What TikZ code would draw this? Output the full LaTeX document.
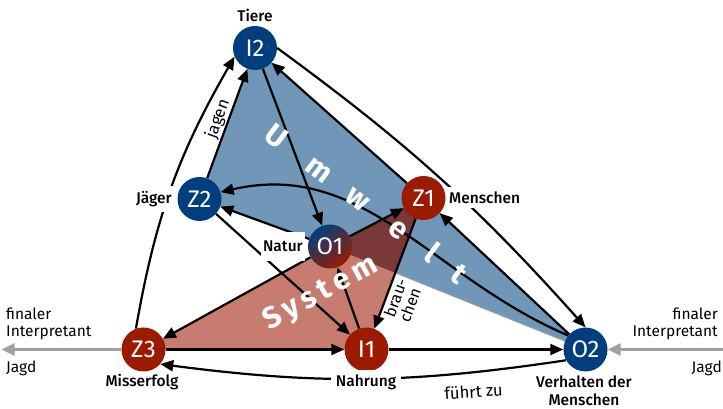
\documentclass[tikz,border=0pt]{standalone}
\usepackage{fontspec}
\setmainfont{Fira Sans}
\newfontfamily\medfont{Fira Sans Medium}
\usetikzlibrary{arrows.meta}
\definecolor{nblue}{HTML}{003E7E}
\definecolor{nred}{HTML}{9A1B00}
\definecolor{bfill}{HTML}{7096B8}
\definecolor{rfill}{HTML}{C87B6F}
\definecolor{ofill}{HTML}{7A3838}
\definecolor{garrow}{HTML}{A0A0A0}
\pgfdeclarelayer{back}
\pgfdeclarelayer{mid}
\pgfsetlayers{back,mid,main}
\begin{document}
\begin{tikzpicture}[x=1pt,y=1pt,
  circ/.style={circle,minimum size=44pt,inner sep=0pt,text=white,font=\fontsize{24}{24}\selectfont},
  bnode/.style={circ,fill=nblue},
  rnode/.style={circ,fill=nred},
  lab/.style={font=\medfont\fontsize{15.5}{18}\selectfont,inner xsep=2pt,inner ysep=5pt},
  wlab/.style={lab,fill=white},
  small/.style={font=\fontsize{16.5}{16.5}\selectfont,inner sep=1pt},
  side/.style={font=\fontsize{15.5}{17}\selectfont,inner sep=0pt},
  arr/.style={-{Triangle[length=13pt,width=11pt]},line width=2.2pt},
  garr/.style={-{Triangle[length=13pt,width=12pt]},line width=3pt,draw=garrow},
  big/.style={text=white,font=\bfseries\fontsize{30}{30}\selectfont,inner sep=0pt}
]
\useasboundingbox (0,0) rectangle (723,409);
% centres
\coordinate (cI2) at (255,361);
\coordinate (cZ2) at (199.5,210);
\coordinate (cO1) at (330,162.5);
\coordinate (cZ1) at (423.5,211);
\coordinate (cZ3) at (143.5,59.5);
\coordinate (cI1) at (366.5,59.5);
\coordinate (cO2) at (585.5,59.5);
\coordinate (lend) at (1.5,59.5);
\coordinate (rstart) at (723,59.5);
\coordinate (X) at (intersection of cO1--cO2 and cZ1--cI1);

% big texts
\node[big,rotate=-37] (umw) at (366.5,206) {U\kern32pt m\kern25pt w\kern31pt e\kern28.5pt l\kern24pt t};
\node[big,rotate=28.5] (sys) at (321,115) {S\kern5pt y\kern5pt s\kern5pt t\kern5pt e\kern5pt m};

% circles
\node[bnode] (I2) at (cI2) {I2};
\node[bnode] (Z2) at (cZ2) {Z2};
\node[circ,top color=nblue,bottom color=nred,shading angle=35] (O1) at (cO1) {O1};
\node[rnode] (Z1) at (cZ1) {Z1};
\node[rnode] (Z3) at (cZ3) {Z3};
\node[rnode] (I1) at (cI1) {I1};
\node[bnode] (O2) at (cO2) {O2};

% labels
\node[lab] (lTiere) at (255,394) {Tiere};
\node[wlab,anchor=east] (lJaeger) at (174,210) {Jäger};
\node[wlab,anchor=east,inner ysep=9pt] (lNatur) at (305,162.5) {Natur};
\node[wlab,anchor=west] (lMenschen) at (447,211.5) {Menschen};
\node[lab] (lMiss) at (142,26.5) {Misserfolg};
\node[wlab,inner xsep=5pt] (lNahrung) at (366,26.5) {Nahrung};
\node[lab,align=center] (lVerh) at (584,18) {Verhalten der\\Menschen};
\node[small,rotate=4] (lfuehrt) at (473.5,17.5) {führt zu};
\node[small,rotate=70] (ljagen) at (218,290) {jagen};
\node[small,rotate=70,align=left,font=\fontsize{16}{16}\selectfont] (lbrauchen) at (403,108.5) {brau-\\chen};
\node[side,align=left,anchor=west] (lfinL) at (6,85) {finaler\\Interpretant};
\node[side,anchor=west] (ljagdL) at (6,40.5) {Jagd};
\node[side,align=right,anchor=east] (lfinR) at (718,85) {finaler\\Interpretant};
\node[side,anchor=east] (ljagdR) at (722,40.5) {Jagd};

\begin{pgfonlayer}{back}
\filldraw[fill=bfill,draw=garrow,line width=1pt] (cI2) -- (cZ1) -- (cO2) -- (cO1) -- (cZ2) -- cycle;
\fill[rfill] (cZ3) -- (cI1) -- (cZ1) -- (cO1) -- cycle;
\fill[ofill] (cO1) -- (cZ1) -- (X) -- cycle;
\end{pgfonlayer}

\begin{pgfonlayer}{mid}
\draw[arr] (I2) -- (O1);
\draw[arr] (Z1) -- (I2);
\draw[arr] (I2.east) to[bend left=6] (O2.north);
\draw[arr] (Z3.110) to[bend left=10] (I2.203);
\draw[arr] (Z2) -- (I2);
\draw[arr] (O1) -- (Z2);
\draw[arr] (O2.141) to[out=157,in=13] (Z2.18);
\draw[arr] (O2) -- (Z1);
\draw[arr] (O1) -- (Z1);
\draw[arr] (O1) -- (Z3);
\draw[arr] (Z3) -- (I1);
\draw[arr] (I1) -- (O2);
\draw[arr] (Z2) -- (I1);
\draw[arr] (I1) -- (O1);
\draw[arr] (Z1) -- (I1);
\draw[arr] (O2.209) to[bend left=8] (Z3.-41);
\draw[garr] (Z3) -- (lend);
\draw[garr] (rstart) -- (O2);
\end{pgfonlayer}
\end{tikzpicture}
\end{document}
